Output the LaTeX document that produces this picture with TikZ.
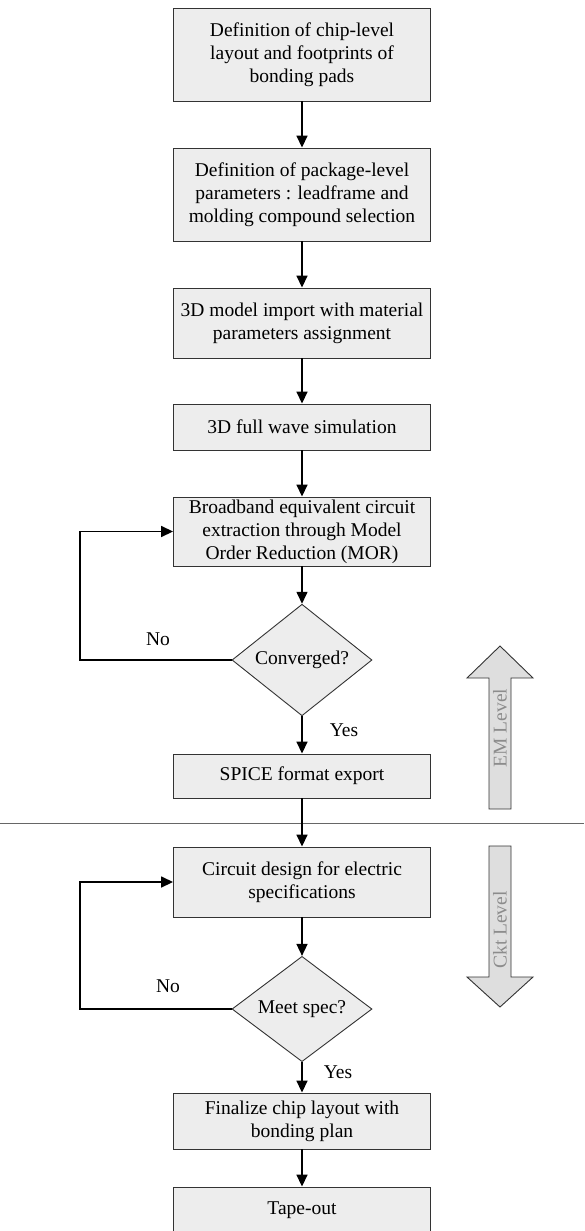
\documentclass[tikz,border=0pt]{standalone}
\usepackage{fontspec}
\setmainfont{Liberation Serif}
\usetikzlibrary{arrows.meta,shapes.geometric}
\begin{document}
\begin{tikzpicture}[x=1pt,y=-1pt,
  txt/.style={font=\fontsize{19.5}{23}\selectfont},
  box/.style={txt,draw=black!80,line width=0.9pt,fill=black!7,minimum width=257pt,inner sep=0pt,align=center},
  dec/.style={txt,draw=black!80,line width=0.9pt,fill=black!7,shape=diamond,minimum width=140pt,minimum height=92pt,inner sep=0pt},
  flow/.style={line width=1.6pt,-{Triangle[width=11pt,length=12pt]}},
  bigarrow/.style={draw=black!80,line width=0.9pt,fill=black!13},
  levtxt/.style={txt,text=black!45,rotate=90}]
\useasboundingbox (0,0) rectangle (584,1231);
\clip (0,0) rectangle (584,1231);

\node[box,minimum height=93pt] (b1) at (302,54.5) {Definition of chip-level\\layout and footprints of\\bonding pads};
\node[box,minimum height=93pt] (b2) at (302,194.5) {Definition of package-level\\parameters : leadframe and\\molding compound selection};
\node[box,minimum height=70pt] (b3) at (302,323) {3D model import with material\\parameters assignment};
\node[box,minimum height=46pt] (b4) at (302,427) {3D full wave simulation};
\node[box,minimum height=69pt] (b5) at (302,531.5) {Broadband equivalent circuit\\extraction through Model\\Order Reduction (MOR)};
\node[dec] (d1) at (302,660) {Converged?};
\node[box,minimum height=44pt] (b6) at (302,776) {SPICE format export};
\node[box,minimum height=70pt] (b7) at (302,882) {Circuit design for electric\\specifications};
\node[dec] (d2) at (302,1009) {Meet spec?};
\node[box,minimum height=56pt] (b8) at (302,1121) {Finalize chip layout with\\bonding plan};
\node[box,minimum height=47pt] (b9) at (302,1210.5) {Tape-out};

\coordinate (hl) at (0,823);
\coordinate (hr) at (584,823);
\draw[black!60,line width=1pt] (hl) -- (hr);

\draw[flow] (b1) -- (b2);
\draw[flow] (b2) -- (b3);
\draw[flow] (b3) -- (b4);
\draw[flow] (b4) -- (b5);
\draw[flow] (b5) -- (d1);
\draw[flow] (d1) -- (b6);
\draw[flow] (b6) -- (b7);
\draw[flow] (b7) -- (d2);
\draw[flow] (d2) -- (b8);
\draw[flow] (b8) -- (b9);

\coordinate (c1) at (80,660);
\coordinate (c2) at (80,1009);
\draw[flow] (d1.west) -- (c1) |- (b5.west);
\draw[flow] (d2.west) -- (c2) |- (b7.west);

\node[txt] (no1) at (158,639) {No};
\node[txt] (yes1) at (344,730) {Yes};
\node[txt] (no2) at (168,986) {No};
\node[txt] (yes2) at (338,1072) {Yes};

\draw[bigarrow] (489,809) -- (489,678) -- (467,678) -- (500,646) -- (533,678) -- (511,678) -- (511,809) -- cycle;
\node[levtxt] (em) at (500,728) {EM Level};
\draw[bigarrow] (489,846) -- (489,977) -- (467,977) -- (500,1007) -- (533,977) -- (511,977) -- (511,846) -- cycle;
\node[levtxt] (ckt) at (500,930) {Ckt Level};
\end{tikzpicture}
\end{document}
